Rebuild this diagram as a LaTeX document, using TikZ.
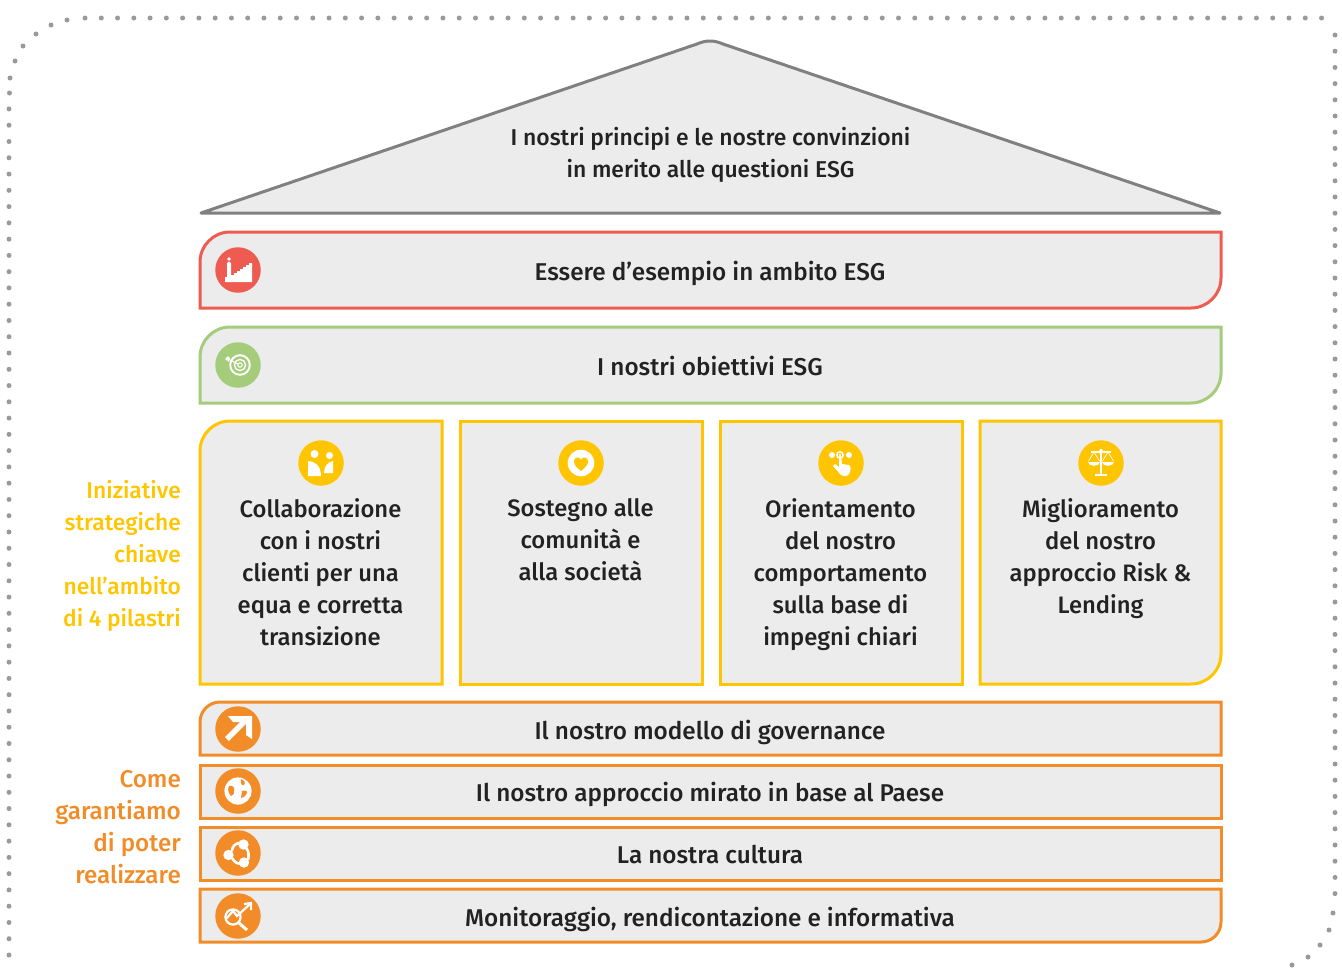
\documentclass[tikz,border=0pt]{standalone}
\usepackage{fontspec}
\setmainfont{Fira Sans}[UprightFont=* Medium,BoldFont=* SemiBold]
\definecolor{cred}{HTML}{EE5B50}
\definecolor{cgreen}{HTML}{A5CC7A}
\definecolor{cyellow}{HTML}{FFC500}
\definecolor{corange}{HTML}{F28C28}
\definecolor{cfill}{HTML}{ECECEC}
\definecolor{croof}{HTML}{808080}
\definecolor{cdot}{HTML}{9A9A9A}
\definecolor{ctext}{HTML}{222222}
\newcommand{\panelbox}[7]{% x1 y1 x2 y2 rTL rBR colour
  \draw[panelline,draw=#7] ({#1},{#2+#5}) .. controls ({#1},{#2+.45*#5}) and ({#1+.45*#5},{#2}) .. ({#1+#5},{#2})
   -- ({#3},{#2}) -- ({#3},{#4-#6}) .. controls ({#3},{#4-.45*#6}) and ({#3-.45*#6},{#4}) .. ({#3-#6},{#4})
   -- ({#1},{#4}) -- cycle;}
\tikzset{
 x=1pt,y=-1pt,
 panelline/.style={fill=cfill,line width=3pt,line join=miter},
 lbl/.style={font=\fontsize{24.3}{32}\selectfont,text=ctext,align=center,inner sep=0pt,anchor=base},
 pil/.style={font=\fontsize{23.8}{32}\selectfont,text=ctext,align=center,inner sep=0pt,anchor=north},
 rooflbl/.style={font=\fontsize{22.9}{32}\selectfont,text=ctext,align=center,inner sep=0pt},
 side/.style={align=right,anchor=east,inner sep=0pt},
 badge/.style={circle,minimum size=45.5pt,inner sep=0pt,fill=#1},
 ico/.style={fill=white,draw=none},
 icol/.style={draw=white,line width=1.6pt,fill=none},
}
\begin{document}
\begin{tikzpicture}
\useasboundingbox (0,0) rectangle (1342,967);
% dotted frame
\foreach \p in {(15,61),(23,46),(36,34),(51,25),(67,20),(1333,913),(1329,930),(1320,945),(1308,957),(1292,965),(10,78),(9.5,93)}
  \fill[cdot] \p circle (2.5);
\foreach \i in {0,...,76} \fill[cdot] ({85+\i*16.27},18) circle (2.5);
\foreach \i in {0,...,52} \fill[cdot] (9,{955-\i*16.27}) circle (2.5);
\foreach \i in {0,...,53} \fill[cdot] (1335,{35+\i*16.2}) circle (2.5);
% roof
\draw[fill=cfill,draw=croof,line width=3pt,line join=round] (201,213) -- (697,44) .. controls (706,40) and (714,40) .. (723,44) -- (1220,213) -- cycle;
\node[rooflbl] (roof) at (710.5,155) {I nostri principi e le nostre convinzioni\\in merito alle questioni ESG};
% bars
\panelbox{200}{232}{1221}{308}{30}{30}{cred}
\node[lbl] (esempio) at (710,280) {Essere d’esempio in ambito ESG};
\panelbox{200}{327}{1221}{403}{30}{30}{cgreen}
\node[lbl] (obiettivi) at (710,375) {I nostri obiettivi ESG};
% pillars
\panelbox{200}{421}{442}{684}{30}{0}{cyellow}
\panelbox{460}{421}{702}{684}{0}{0}{cyellow}
\panelbox{720}{421}{962}{684}{0}{0}{cyellow}
\panelbox{980}{421}{1221}{684}{0}{30}{cyellow}
\node[pil] (p1) at (320.5,498) {Collaborazione\\con i nostri\\clienti per una\\equa e corretta\\transizione};
\node[pil] (p2) at (580.5,498) {Sostegno alle\\comunità e\\alla società};
\node[pil] (p3) at (840.5,498) {Orientamento\\del nostro\\comportamento\\sulla base di\\impegni chiari};
\node[pil] (p4) at (1100.5,498) {Miglioramento\\del nostro\\approccio Risk \&\\Lending};
% orange bars
\panelbox{200}{702}{1221}{755}{20}{0}{corange}
\panelbox{200}{765}{1221}{818}{0}{0}{corange}
\panelbox{200}{827}{1221}{880}{0}{0}{corange}
\panelbox{200}{889}{1221}{942}{0}{20}{corange}
\node[lbl] (gov) at (710,739) {Il nostro modello di governance};
\node[lbl] (paese) at (710,801) {Il nostro approccio mirato in base al Paese};
\node[lbl] (cult) at (710,863) {La nostra cultura};
\node[lbl] (mon) at (710,926) {Monitoraggio, rendicontazione e informativa};
% side labels
\node[side,text=cyellow,font=\fontsize{22.8}{32}\selectfont] (s1) at (181,556) {Iniziative\\strategiche\\chiave\\nell’ambito\\di 4 pilastri};
\node[side,text=corange,font=\fontsize{24.2}{32}\selectfont] (s2) at (181,827) {Come\\garantiamo\\di poter\\realizzare};
% badges
\node[badge=cred] (b1) at (238,270) {};
\node[badge=cgreen] (b2) at (238,365) {};
\node[badge=cyellow] (y1) at (321,463) {};
\node[badge=cyellow] (y2) at (581,463) {};
\node[badge=cyellow] (y3) at (841,463) {};
\node[badge=cyellow] (y4) at (1101,463) {};
\node[badge=corange] (o1) at (238,729) {};
\node[badge=corange] (o2) at (238,791) {};
\node[badge=corange] (o3) at (238,853) {};
\node[badge=corange] (o4) at (238,916) {};
% stairs icon
\fill[ico] (225,282) -- (225,277) -- (227,277) -- (227,263) .. controls (228,261) and (230,261) .. (231,263) -- (231,275) -- (234,275) -- (234,273) -- (237,273) -- (237,271) -- (240,271) -- (240,269) -- (243,269) -- (243,267) -- (246,267) -- (246,265) -- (249,265) -- (249,263) -- (252,263) -- (252,282) -- cycle;
\fill[ico] (229,259) circle (1.8);
% target icon
\draw[icol,line width=1.9pt] (240,365) circle (9.8);
\draw[icol,line width=1.4pt] (240,365) circle (5.6);
\draw[icol,line width=1.1pt] (240,365) circle (2.2);
\draw[icol,line width=1pt] (230,360) -- (238,364);
\fill[ico] (225,359) -- (228,356) -- (230,358) -- (229,362) -- cycle;
% people icon
\fill[ico] (314.5,454) circle (4);
\fill[ico] (329.5,455.5) circle (3.5);
\fill[ico] (308,461) .. controls (314,461) and (321,465) .. (321,476) -- (308,476) -- cycle;
\fill[ico] (333,461) .. controls (328,462) and (324,466) .. (324,473) -- (333,473) -- cycle;
% heart icon
\fill[ico] (581,463) circle (13.3);
\fill[cyellow] (581,471) .. controls (577,467.5) and (574,465) .. (574,461.5) .. controls (574,457) and (579,456) .. (581,459.5) .. controls (583,456) and (588,457) .. (588,461.5) .. controls (588,465) and (585,467.5) .. (581,471) -- cycle;
% hand icon
\fill[ico] (832,455) circle (3);
\fill[ico] (849,455) circle (3);
\draw[icol,line width=1.4pt] (840,455) circle (3.2);
\fill[ico] (839,454) -- (841,454) -- (842,464) -- (849,465) .. controls (851,466) and (851,470) .. (850,472) .. controls (849,476) and (845,477) .. (841,475) -- (833,466) -- (835,464) -- (839,467) -- cycle;
% scales icon
\draw[draw=white,line width=1.4pt] (1091,452) -- (1111,452);
\fill[ico] (1101,451) circle (2);
\fill[ico] (1100,451) rectangle (1102,474);
\fill[ico] (1095,474) rectangle (1107,476);
\fill[ico] (1088,462) -- (1100,462) .. controls (1100,467) and (1088,467) .. (1088,462) -- cycle;
\fill[ico] (1102,462) -- (1114,462) .. controls (1114,467) and (1102,467) .. (1102,462) -- cycle;
\draw[draw=white,line width=.7pt] (1088.5,461) -- (1094,452) -- (1099.5,461) (1102.5,461) -- (1108,452) -- (1113.5,461);
% arrow icon
\draw[draw=white,line width=5.4pt] (227,739) -- (246,720);
\fill[ico] (228,716) -- (252,716) -- (252,739) -- (246,735) -- (246,722) -- (233,722) -- cycle;
% globe icon
\fill[ico] (238,791) circle (13.6);
\fill[corange] (229,786) .. controls (232,785) and (235,787) .. (234,790) .. controls (235,793) and (233,796) .. (231,796) .. controls (229,794) and (227,790) .. (229,786) -- cycle;
\fill[corange] (241,779) .. controls (244,780) and (246,783) .. (244,785) .. controls (242,786) and (240,783) .. (241,779) -- cycle;
\fill[corange] (242,791) .. controls (245,790) and (248,791) .. (247,793) .. controls (246,796) and (243,798) .. (241,798) -- cycle;
% cycle icon
\fill[ico] (243.5,844.5) circle (5.2);
\fill[ico] (228.5,855) circle (5.2);
\fill[ico] (244,862.5) circle (5.2);
\draw[icol,line width=2.6pt] (232,851) .. controls (232,846) and (236,843) .. (240,843);
\draw[icol,line width=2.6pt] (232,858) .. controls (235,863) and (238,864) .. (241,864);
\draw[icol,line width=2.6pt] (248,860) .. controls (249,855) and (249,851) .. (246,848);
% chart icon
\draw[icol,line width=2.2pt] (233,917) circle (7.6);
\draw[icol,line width=3pt] (239,923) -- (247,930);
\draw[icol,line width=2.2pt] (226,919) -- (233,911) -- (237,916) -- (250,904);
\draw[icol,line width=2.2pt] (244,904) -- (251,903) -- (251,910);
\end{tikzpicture}
\end{document}
